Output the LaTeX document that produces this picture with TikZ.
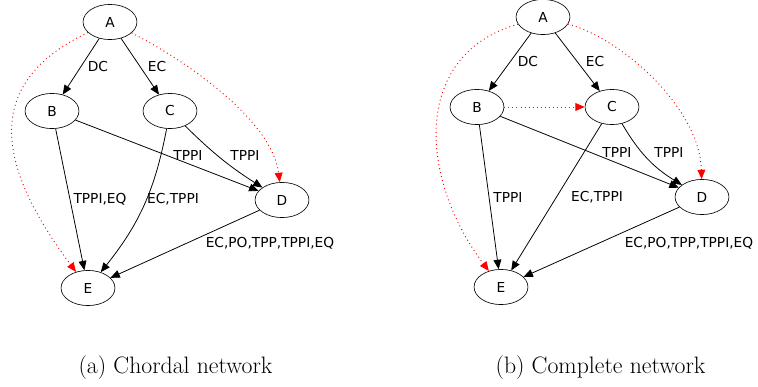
\documentclass[tikz,border=0pt]{standalone}
\usepackage{fontspec}
\usepackage{tikz}
\usetikzlibrary{arrows.meta}
\usetikzlibrary{shapes.geometric}
\newfontfamily\gvfont{DejaVu Sans}
\tikzset{
   relnode/.style={draw=black, ellipse, minimum width=34.5pt,
      minimum height=22.5pt, inner sep=0pt,
      font=\gvfont\fontsize{8.8}{10}\selectfont},
   rel/.style={draw=black, line width=0.5pt,
      -{Triangle[length=6pt,width=5pt]}},
   inferred/.style={draw=red, dotted, line width=0.6pt,
      -{Triangle[length=6pt,width=5pt,fill=red]}},
   rellabel/.style={inner sep=0pt,
      font=\gvfont\fontsize{8.8}{10}\selectfont},
   subcap/.style={inner sep=0pt, font=\fontsize{15.2}{18}\selectfont},
   }

\begin{document}
\begin{tikzpicture}[x=0.64pt, y=-0.64pt]
            \useasboundingbox (0,0) rectangle (758,387);
            % (a) chordal
            \node[relnode] (a1) at (110,22) {A};
            \node[relnode] (b1) at (52,111) {B};
            \node[relnode] (c1) at (170,111) {C};
            \node[relnode] (d1) at (282,200) {D};
            \node[relnode] (e1) at (88,288) {E};
            \draw[rel](a1)to(b1);
            \draw[rel](a1)to(c1);
            \draw[rel](b1)to(d1);
            \draw[rel](c1)to[bend right=6](d1);
            \draw[rel](b1)to(e1);
            \draw[rel](c1)to[bend left=14](e1);
            \draw[rel](d1)to(e1);
            \draw[inferred](a1) .. controls (-22,85) and (0,170) .. (e1);
            \draw[inferred](a1) .. controls (185,60) and (272,120) .. (d1);
            \node[rellabel] (dca) at (98,67) {DC};
            \node[rellabel] (eca) at (157,67) {EC};
            \node[rellabel] (bda) at (188,155) {TPPI};
            \node[rellabel] (cda) at (245,155) {TPPI};
            \node[rellabel] (bea) at (100,199) {TPPI,EQ};
            \node[rellabel] (cea) at (173,199) {EC,TPPI};
            \node[rellabel] (dea) at (270,243) {EC,PO,TPP,TPPI,EQ};
            % (b) complete
            \node[relnode] (a2) at (543,17) {A};
            \node[relnode] (b2) at (477,107) {B};
            \node[relnode] (c2) at (612,107) {C};
            \node[relnode] (d2) at (702,197) {D};
            \node[relnode] (e2) at (501,287) {E};
            \draw[rel](a2)to(b2);
            \draw[rel](a2)to(c2);
            \draw[rel](b2)to(d2);
            \draw[rel](c2)to[bend right=14](d2);
            \draw[rel](b2)to(e2);
            \draw[rel](c2)to(e2);
            \draw[rel](d2)to(e2);
            \draw[inferred](b2)to(c2);
            \draw[inferred](a2) .. controls (410,55) and (420,180) .. (e2);
            \draw[inferred](a2) .. controls (625,40) and (700,110) .. (d2);
            \node[rellabel] (dcb) at (528,62) {DC};
            \node[rellabel] (ecb) at (595,62) {EC};
            \node[rellabel] (bdb) at (617,152) {TPPI};
            \node[rellabel] (cdb) at (669,152) {TPPI};
            \node[rellabel] (beb) at (508,197) {TPPI};
            \node[rellabel] (ceb) at (597,197) {EC,TPPI};
            \node[rellabel] (deb) at (689,243) {EC,PO,TPP,TPPI,EQ};
            % captions
            \node[subcap] (capa) at (175.5,368) {(a) Chordal network};
            \node[subcap] (capb) at (600.5,368) {(b) Complete network};
        \end{tikzpicture}
\end{document}
